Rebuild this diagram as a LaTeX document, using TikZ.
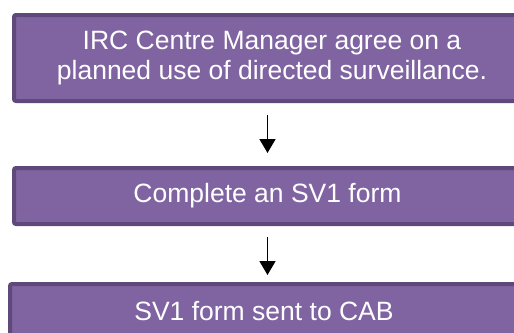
\documentclass[tikz,border=0pt]{standalone}
\usepackage{fontspec}
\setmainfont{Liberation Sans}
\usepackage{tikz}
\usetikzlibrary{positioning,calc,arrows.meta}
\definecolor{SVPurple}{RGB}{128,100,162}
\definecolor{SVPurpleDark}{RGB}{95,73,122}

\begin{document}
\begin{tikzpicture}[x=1pt, y=1pt]
	\tikzset{
		svbox/.style={
			shape=rectangle,
			draw=SVPurpleDark,
			line width=4pt,
			fill=SVPurple,
			rounded corners=2pt,
			inner sep=0pt,
			align=center,
			text=white,
			font=\fontsize{26.5}{30}\selectfont
		},
		svarrow/.style={draw=black,line width=1.8pt,-{Triangle[width=16pt,length=14pt]}}
	}
	\useasboundingbox (0,0) rectangle (514,-332);
	
	% three steps of the procedure, top to bottom
	\node[svbox, minimum width=516pt, minimum height=86pt] (agree) at (272,-58)
		{IRC Centre Manager agree on a\\planned use of directed surveillance.};
	\node[svbox, minimum width=507pt, minimum height=56pt] (form) at (267.5,-196)
		{Complete an SV1 form};
	\node[svbox, minimum width=508pt, minimum height=54pt] (cab) at (264,-311)
		{SV1 form sent to CAB};
	
	\draw[svarrow, shorten <=12pt, shorten >=13pt] (agree.south -| form.north) -- (form.north);
	\draw[svarrow, shorten <=11pt, shorten >=7pt] (form.south) -- (form.south |- cab.north);
\end{tikzpicture}
\end{document}
